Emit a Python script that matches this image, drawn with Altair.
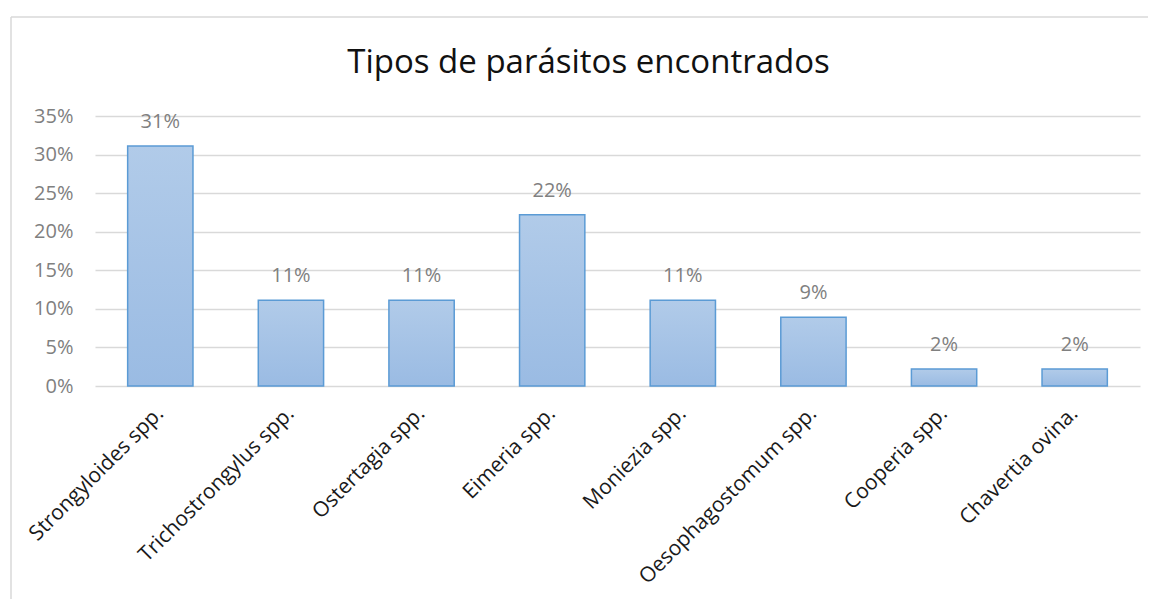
import altair as alt
import pandas as pd

categories = ["Strongyloides spp.", "Trichostrongylus spp.", "Ostertagia spp.", "Eimeria spp.",
              "Moniezia spp.", "Oesophagostomum spp.", "Cooperia spp.", "Chavertia ovina."]
values = [0.311, 0.111, 0.111, 0.222, 0.111, 0.089, 0.022, 0.022]
y_ticks = [0.0, 0.05, 0.10, 0.15, 0.20, 0.25, 0.30, 0.35]

df = pd.DataFrame({"cat": categories, "value": values})

FONT = "Open Sans"

base = alt.Chart(df)

x = alt.X("cat:N", sort=categories, title=None,
          scale=alt.Scale(paddingInner=0.5, paddingOuter=0.25),
          axis=alt.Axis(labelAngle=-45, labelAlign="right", labelBaseline="middle",
                        labelPadding=24, ticks=False, domain=False, labelFontSize=21,
                        labelColor="#1a1a1a", labelFont=FONT, labelLimit=400,
                        labelOverlap=False))
y = alt.Y("value:Q", title=None, scale=alt.Scale(domain=[0, 0.35], nice=False),
          axis=alt.Axis(values=y_ticks, format=".0%", ticks=False, domain=False,
                        gridColor="#d9d9d9", gridWidth=1.5, labelPadding=22,
                        labelFontSize=20, labelColor="#808080", labelFont=FONT,
                        labelOverlap=False))

bars = base.mark_bar(
    stroke="#5b9bd5", strokeWidth=1.5,
    color=alt.Gradient(gradient="linear", x1=0, y1=0, x2=0, y2=1,
                       stops=[alt.GradientStop(color="#b1cbe9", offset=0),
                              alt.GradientStop(color="#9abbe3", offset=1)])
).encode(x=x, y=y)

labels = base.mark_text(dy=-24, baseline="middle", fontSize=20, color="#808080", font=FONT).encode(
    x=x, y=y, text=alt.Text("value:Q", format=".0%"))

frame_df = pd.DataFrame({"a": [0]})
left_border = alt.Chart(frame_df).mark_rule(color="#d9d9d9", strokeWidth=1.5).encode(
    x=alt.value(-84), y=alt.value(-99), y2=alt.value(700))
top_border = alt.Chart(frame_df).mark_rule(color="#d9d9d9", strokeWidth=1.5).encode(
    x=alt.value(-84), x2=alt.value(1200), y=alt.value(-99))

chart = alt.layer(bars, labels, left_border, top_border).properties(
    width=1045, height=270,
    title=alt.TitleParams("Tipos de parásitos encontrados", fontSize=33, font=FONT,
                          fontWeight="normal", color="#111111", dx=-29, offset=-90,
                          baseline="alphabetic", frame="group", anchor="middle"),
    autosize=alt.AutoSizeParams(type="none"),
    padding={"left": 87, "top": 108, "right": 8, "bottom": 240},
).configure_view(stroke=None)

chart.save("out.html", embed_options={"renderer": "svg", "actions": False})
